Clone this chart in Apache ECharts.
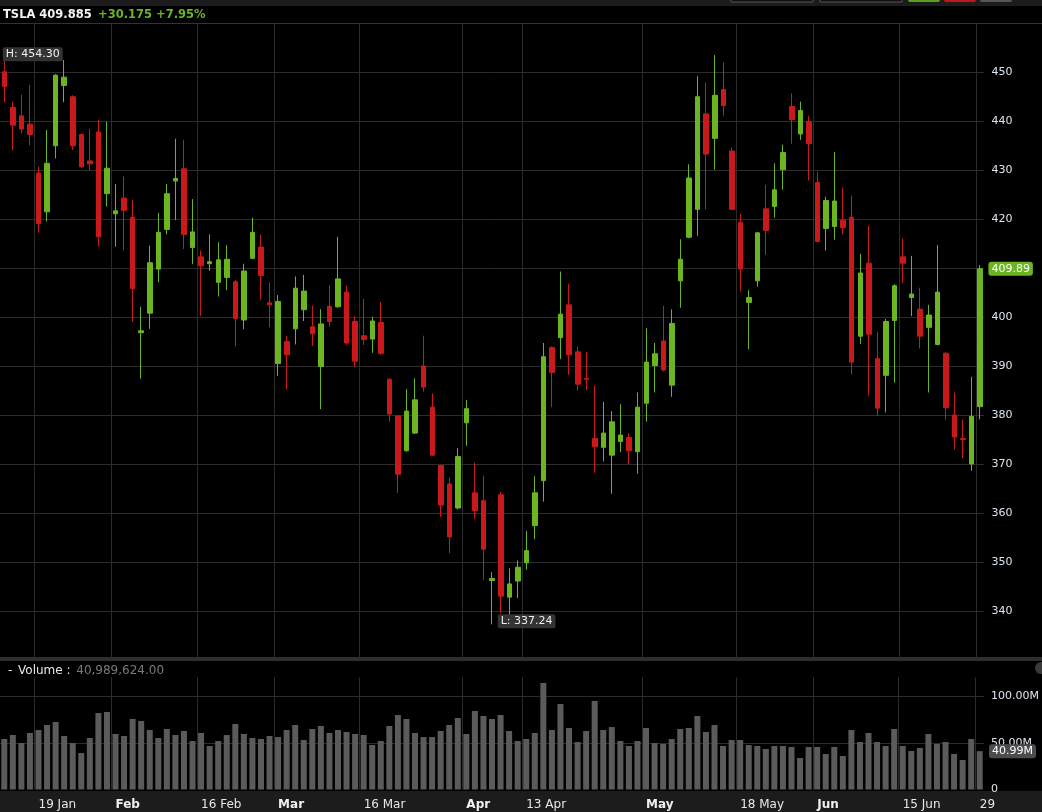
<!DOCTYPE html>
<html>
<head>
<meta charset="utf-8">
<title>TSLA</title>
<script src="https://cdn.jsdelivr.net/npm/echarts@6/dist/echarts.min.js"></script>
<style>
html, body { margin: 0; padding: 0; background: #000; }
#chart { width: 1042px; height: 812px; }
</style>
</head>
<body>
<div id="chart"></div>
<script>
const dates = [
  '2026-01-13','2026-01-14','2026-01-15','2026-01-16','2026-01-20','2026-01-21','2026-01-22','2026-01-23','2026-01-26','2026-01-27','2026-01-28','2026-01-29','2026-01-30',
  '2026-02-02','2026-02-03','2026-02-04','2026-02-05','2026-02-06','2026-02-09','2026-02-10','2026-02-11','2026-02-12','2026-02-13','2026-02-17','2026-02-18','2026-02-19','2026-02-20','2026-02-23','2026-02-24','2026-02-25','2026-02-26','2026-02-27',
  '2026-03-02','2026-03-03','2026-03-04','2026-03-05','2026-03-06','2026-03-09','2026-03-10','2026-03-11','2026-03-12','2026-03-13','2026-03-16','2026-03-17','2026-03-18','2026-03-19','2026-03-20','2026-03-23','2026-03-24','2026-03-25','2026-03-26','2026-03-27','2026-03-30','2026-03-31',
  '2026-04-01','2026-04-02','2026-04-06','2026-04-07','2026-04-08','2026-04-09','2026-04-10','2026-04-13','2026-04-14','2026-04-15','2026-04-16','2026-04-17','2026-04-20','2026-04-21','2026-04-22','2026-04-23','2026-04-24','2026-04-27','2026-04-28','2026-04-29','2026-04-30',
  '2026-05-01','2026-05-04','2026-05-05','2026-05-06','2026-05-07','2026-05-08','2026-05-11','2026-05-12','2026-05-13','2026-05-14','2026-05-15','2026-05-18','2026-05-19','2026-05-20','2026-05-21','2026-05-22','2026-05-26','2026-05-27','2026-05-28','2026-05-29',
  '2026-06-01','2026-06-02','2026-06-03','2026-06-04','2026-06-05','2026-06-08','2026-06-09','2026-06-10','2026-06-11','2026-06-12','2026-06-15','2026-06-16','2026-06-17','2026-06-18','2026-06-22','2026-06-23','2026-06-24','2026-06-25','2026-06-26','2026-06-29'
]

const opens = [
  450.1,442.8,441.1,439.4,429.4,421.5,435.0,447.3,445.0,437.3,
  431.9,437.8,425.2,421.1,424.3,420.4,396.8,400.8,409.8,417.9,
  427.8,430.3,414.2,412.3,410.9,407.1,408.1,407.2,399.4,412.0,
  414.3,402.9,390.5,395.0,397.6,401.5,398.0,389.9,402.2,402.1,
  405.1,399.1,396.2,395.5,398.9,387.3,379.8,372.7,376.3,390.0,
  381.6,369.7,365.9,361.0,378.4,364.1,362.5,346.2,363.7,342.8,
  346.1,349.8,357.4,366.6,393.8,395.8,402.5,392.9,387.5,375.2,
  373.4,371.8,374.6,375.4,372.5,382.4,390.1,395.1,386.1,407.4,
  416.3,422.0,441.5,436.5,446.5,433.9,419.3,403.0,407.4,422.1,
  422.6,430.1,443.0,437.4,439.9,427.5,418.1,418.5,419.8,420.4,
  396.1,411.0,391.5,388.1,399.3,412.3,404.0,401.6,397.9,394.4,
  392.6,380.0,375.2,370.0,381.7
]
const closes = [
  447.1,439.2,438.4,437.3,419.1,431.4,449.4,449.0,435.0,430.7,
  431.3,416.4,430.4,421.7,421.8,405.8,397.2,411.1,417.3,425.2,
  428.3,416.9,417.4,410.5,411.3,411.7,411.8,399.7,409.4,417.3,
  408.5,402.5,403.2,392.3,405.9,405.3,396.6,398.6,399.1,407.8,
  394.7,391.0,395.4,399.2,392.6,380.2,367.9,380.8,383.1,385.7,
  371.8,361.6,355.1,371.5,381.3,360.5,352.6,346.6,343.0,345.5,
  348.9,352.3,364.1,391.9,388.7,400.6,392.3,386.3,387.3,373.5,
  376.3,378.6,375.9,372.7,381.6,390.8,392.5,389.2,398.7,411.8,
  428.4,445.0,433.3,445.3,443.2,422.0,409.8,404.0,417.2,417.7,
  426.0,433.6,440.3,442.2,435.4,415.4,423.8,423.7,418.3,390.8,
  409.0,396.5,381.4,399.1,406.4,411.0,404.7,396.1,400.4,405.1,
  381.5,375.5,375.0,379.71,409.885
]
const lows = [
  443.8,434.1,437.5,435.1,417.2,419.5,432.4,443.9,434.1,430.5,
  429.9,414.4,422.6,414.4,413.6,399.0,387.4,397.6,407.1,416.9,
  419.8,413.9,410.8,400.2,409.4,404.2,405.5,394.0,397.5,411.8,
  403.5,397.9,388.0,385.2,394.4,399.2,394.1,381.2,398.0,401.9,
  394.3,389.8,394.3,392.7,392.3,378.6,364.1,372.5,376.1,384.8,
  371.7,359.2,351.8,360.7,373.7,358.8,346.3,337.24,339.5,339.2,
  342.6,348.4,354.6,362.3,381.6,391.4,388.2,385.0,385.1,368.2,
  370.5,363.9,372.4,370.0,368.0,378.6,384.6,388.9,383.7,401.9,
  416.1,416.6,422.0,430.1,441.1,421.8,405.2,393.4,406.2,412.7,
  420.3,426.0,435.4,436.2,427.9,415.3,413.6,415.8,416.9,388.3,
  394.5,383.9,379.8,380.5,386.6,406.9,400.2,393.6,384.6,394.2,
  379.0,372.9,371.2,368.6,379.1
]
const highs = [
  452.5,444.0,445.4,447.4,430.7,438.2,449.6,452.5,445.3,437.5,
  438.4,440.3,439.9,427.2,428.7,423.9,402.1,414.6,421.3,427.2,
  436.4,436.2,424.1,413.6,416.9,415.3,414.7,407.6,410.9,420.3,
  416.8,407.1,404.5,396.2,408.3,408.6,402.3,401.6,406.5,416.4,
  406.4,400.2,403.7,400.1,403.1,387.5,380.0,385.3,387.5,396.2,
  384.4,369.8,367.2,373.2,383.1,370.3,367.6,347.9,364.3,348.7,
  350.3,356.3,367.5,394.7,394.0,409.3,406.8,394.0,392.9,386.0,
  382.7,380.8,382.2,376.3,384.6,397.7,394.7,402.3,401.6,415.9,
  431.2,449.2,447.9,453.5,452.0,434.6,421.1,405.5,417.3,427.0,
  431.4,435.2,445.7,444.0,441.1,429.7,424.6,433.7,426.4,424.8,
  412.9,418.6,397.0,399.6,406.7,416.1,412.5,406.0,402.5,414.7,
  392.9,384.6,379.1,387.8,410.6
]
// volume in millions of shares
const volumesM = [
  54.0,58.3,49.7,60.4,63.6,69.0,72.2,57.2,49.7,39.0,
  55.1,81.8,82.9,59.4,57.2,75.4,73.3,63.6,55.1,64.7,
  58.3,62.6,51.9,60.4,46.5,51.9,58.3,70.1,59.4,55.1,
  54.0,57.2,56.1,63.6,69.0,52.9,64.7,67.9,60.4,63.6,
  61.5,59.4,58.3,47.6,51.9,67.9,79.7,75.4,60.4,56.1,
  56.1,62.6,69.0,76.5,59.4,84.0,78.6,75.4,79.7,62.6,
  51.9,54.0,60.4,113.9,63.6,91.4,65.8,50.8,62.6,94.7,
  63.6,66.8,51.9,46.5,51.9,65.8,49.7,48.7,54.0,64.7,
  65.8,78.6,61.5,69.0,46.5,52.9,52.9,47.6,46.5,43.3,
  46.5,46.5,45.5,33.7,45.5,45.5,38.0,45.5,35.8,63.6,
  50.8,60.4,50.8,46.5,64.7,46.5,41.2,44.4,59.4,48.7,
  50.8,38.0,31.6,54.0,40.989624
]

const tickDates = ['2026-01-20','2026-02-02','2026-02-17','2026-03-02','2026-03-16','2026-04-01','2026-04-13','2026-05-01','2026-05-18','2026-06-01','2026-06-15','2026-06-29']
const tickLabels = ['19 Jan','Feb','16 Feb','Mar','16 Mar','Apr','13 Apr','May','18 May','Jun','15 Jun','29']
const monthLabels = ['Feb','Mar','Apr','May','Jun']

const symbol = 'TSLA'
const periodHigh = 454.30
const periodLow = 337.24
const lastPrice = closes[closes.length - 1]
const prevClose = closes[closes.length - 2]
const lastVolume = volumesM[volumesM.length - 1] * 1e6

const upColor = '#6bb521'
const downColor = '#c9191b'
const gridColor = '#2c2c2c'
const axisTextColor = '#dbe4ee'

let candleData = opens.map((o, i) => [o, closes[i], lows[i], highs[i]])
let volumeData = volumesM.map(v => v * 1e6)

const isTick = (idx, value) => tickDates.indexOf(value) >= 0
const fmt2 = v => (Math.round(v * 100 + 1e-6) / 100).toFixed(2)

const change = lastPrice - prevClose
const changePct = change / prevClose * 100

let myChart = echarts.init(document.getElementById('chart'))
myChart.setOption({
  backgroundColor: '#000',
  animation: false,
  textStyle: { fontFamily: 'DejaVu Sans' },
  title: [
    {
      left: 3, top: 6, padding: 0,
      text: '{s|' + symbol + ' ' + lastPrice.toFixed(3) + '} {c|+' + change.toFixed(3) + ' +' + changePct.toFixed(2) + '%}',
      textStyle: {
        rich: {
          s: { color: '#f2f2f2', fontSize: 11.5, fontWeight: 'bold', fontFamily: 'DejaVu Sans' },
          c: { color: upColor, fontSize: 11.5, fontWeight: 'bold', fontFamily: 'DejaVu Sans' }
        }
      }
    },
    {
      left: 8, top: 662, padding: 0,
      text: '{d|-} {v|Volume :} {n|' + lastVolume.toLocaleString('en-US', { minimumFractionDigits: 2 }) + '}',
      textStyle: {
        fontWeight: 'normal',
        rich: {
          d: { color: '#e6e6e6', fontSize: 12, fontWeight: 'normal', fontFamily: 'DejaVu Sans' },
          v: { color: '#e6e6e6', fontSize: 12, fontWeight: 'normal', fontFamily: 'DejaVu Sans' },
          n: { color: '#7a7a7a', fontSize: 12, fontWeight: 'normal', fontFamily: 'DejaVu Sans' }
        }
      }
    }
  ],
  graphic: [
    { type: 'rect', z: -1, shape: { x: 0, y: 0, width: 1042, height: 6 }, style: { fill: '#1c1c1c' } },
    { type: 'rect', shape: { x: 731, y: -2, width: 82, height: 4 }, style: { fill: '#111', stroke: '#555' } },
    { type: 'rect', shape: { x: 820, y: -2, width: 82, height: 4 }, style: { fill: '#111', stroke: '#555' } },
    { type: 'rect', shape: { x: 908, y: -2, width: 32, height: 4, r: 2 }, style: { fill: '#5a9e1c' } },
    { type: 'rect', shape: { x: 944, y: -2, width: 32, height: 4, r: 2 }, style: { fill: '#c01818' } },
    { type: 'rect', shape: { x: 980, y: -2, width: 32, height: 4, r: 2 }, style: { fill: '#555' } },
    { type: 'line', z: 10, shape: { x1: 0, y1: 23.5, x2: 1042, y2: 23.5 }, style: { stroke: '#333', lineWidth: 1 } },
    // hide the closing split line at the right edge of both plots
    { type: 'rect', z: 5, shape: { x: 983.9, y: 24, width: 3, height: 633 }, style: { fill: '#000' } },
    { type: 'rect', z: 5, shape: { x: 983.9, y: 661, width: 3, height: 130 }, style: { fill: '#000' } },
    { type: 'rect', z: 10, shape: { x: 0, y: 657, width: 1042, height: 4 }, style: { fill: '#2e2e2e' } },
    { type: 'rect', z: -1, shape: { x: 0, y: 791, width: 1042, height: 21 }, style: { fill: '#1c1c1c' } },
    { type: 'circle', z: 10, shape: { cx: 1041, cy: 668, r: 6 }, style: { fill: '#3a3a3a' } }
  ],
  grid: [
    { left: 0, right: 57.6, top: 23.3, bottom: 152.2 },
    { left: 0, right: 57.6, top: 677.3, bottom: 22.5 }
  ],
  xAxis: [
    {
      type: 'category', gridIndex: 0, data: dates, boundaryGap: true,
      axisLine: { show: false }, axisTick: { show: false },
      axisLabel: { show: false, interval: isTick },
      splitLine: { show: true, interval: isTick, lineStyle: { color: gridColor } }
    },
    {
      type: 'category', gridIndex: 1, data: dates, boundaryGap: true,
      axisLine: { show: false }, axisTick: { show: false },
      axisLabel: {
        show: true, interval: isTick, align: 'left', margin: 9,
        color: '#e6e6e6', fontSize: 12, fontFamily: 'DejaVu Sans',
        formatter: (value) => {
          let t = tickLabels[tickDates.indexOf(value)]
          return monthLabels.indexOf(t) >= 0 ? '{m|' + t + '}' : t
        },
        rich: { m: { fontWeight: 'bold', fontSize: 12, color: '#f0f0f0', fontFamily: 'DejaVu Sans' } }
      },
      splitLine: { show: true, interval: isTick, lineStyle: { color: gridColor } }
    }
  ],
  yAxis: [
    {
      type: 'value', gridIndex: 0, position: 'right', min: 330, max: 460, interval: 10,
      axisLine: { show: false }, axisTick: { show: false },
      axisLabel: {
        color: axisTextColor, fontSize: 11, margin: 7, fontFamily: 'DejaVu Sans',
        formatter: v => (v <= 330 || v >= 460) ? '' : String(v)
      },
      splitLine: { lineStyle: { color: gridColor } }
    },
    {
      type: 'value', gridIndex: 1, position: 'right', min: 0, max: 120e6, interval: 50e6,
      axisLine: { show: false }, axisTick: { show: false },
      axisLabel: {
        color: axisTextColor, fontSize: 11, margin: 7, fontFamily: 'DejaVu Sans',
        formatter: v => v === 0 ? '0' : (v % 50e6 === 0 ? (v / 1e6).toFixed(2) + 'M' : '')
      },
      splitLine: { showMinLine: false, showMaxLine: false, lineStyle: { color: gridColor } }
    }
  ],
  series: [
    {
      type: 'candlestick', xAxisIndex: 0, yAxisIndex: 0,
      data: candleData, barWidth: 5,
      itemStyle: {
        color: upColor, color0: downColor,
        borderColor: upColor, borderColor0: downColor, borderWidth: 1
      },
      markPoint: {
        symbol: 'circle', symbolSize: 1, silent: true,
        itemStyle: { color: 'rgba(0,0,0,0)' },
        data: [
          {
            coord: [dates[0], periodHigh],
            label: {
              show: true, position: 'right', distance: 0, offset: [-2, 3],
              formatter: 'H: ' + periodHigh.toFixed(2),
              color: '#eeeeee', fontSize: 11, fontFamily: 'DejaVu Sans',
              backgroundColor: '#333', padding: [2, 3, 1, 3], borderRadius: 2
            }
          },
          {
            coord: [dates[lows.indexOf(periodLow)], periodLow],
            label: {
              show: true, position: 'right', distance: 0, offset: [5, -3],
              formatter: 'L: ' + periodLow.toFixed(2),
              color: '#eeeeee', fontSize: 11, fontFamily: 'DejaVu Sans',
              backgroundColor: '#333', padding: [2, 3, 1, 3], borderRadius: 2
            }
          }
        ]
      },
      markLine: {
        silent: true, symbol: ['none', 'none'],
        lineStyle: { color: 'rgba(0,0,0,0)', width: 0, type: 'solid' },
        data: [{ yAxis: lastPrice }],
        label: {
          show: true, position: 'end', distance: 4,
          formatter: fmt2(lastPrice),
          color: '#ffffff', fontSize: 11, fontFamily: 'DejaVu Sans',
          backgroundColor: upColor, padding: [2, 3, 1, 3], borderRadius: 3
        }
      }
    },
    {
      type: 'bar', xAxisIndex: 1, yAxisIndex: 1,
      data: volumeData, barWidth: 6,
      itemStyle: { color: '#5b5b5b' },
      markLine: {
        silent: true, symbol: ['none', 'none'],
        lineStyle: { color: 'rgba(0,0,0,0)', width: 0, type: 'solid' },
        data: [{ yAxis: lastVolume }],
        label: {
          show: true, position: 'end', distance: 5,
          formatter: fmt2(lastVolume / 1e6) + 'M',
          color: '#ffffff', fontSize: 11, fontFamily: 'DejaVu Sans',
          backgroundColor: '#4c4c4c', padding: [2, 3, 1, 3], borderRadius: 3
        }
      }
    }
  ]
})
window.onresize = function() {
  myChart.resize()
}
</script>
</body>
</html>
